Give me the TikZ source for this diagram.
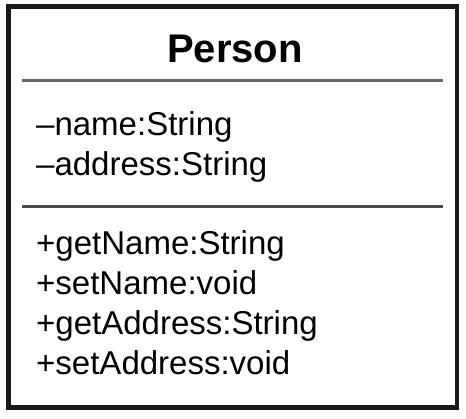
\documentclass[tikz,border=0pt]{standalone}
\usepackage{xcolor}
\usepackage{fontspec}
\setmainfont{Liberation Sans}
\usepackage{tikz}
\usetikzlibrary{positioning}

\begin{document}
\begin{tikzpicture}[x=1pt, y=-1pt]
\useasboundingbox (0,0) rectangle (466,418);

\tikzset{
  member/.style={anchor=base west, inner sep=0pt, font=\fontsize{33}{40}\selectfont},
  divider/.style={line width=3pt, black!60}
}

\draw[line width=4.5pt, black!90] (8.5,6.5) rectangle (457,407.5);

\node[anchor=base, inner sep=0pt, font=\fontsize{40}{48}\selectfont\bfseries] (title) at (235,62) {Person};

\draw[divider] (22,80) -- (443,80);

\node[member] (attr_0) at (36,135) {--name:String};
\node[member] (attr_1) at (36,175) {--address:String};

\draw[divider, black!70] (22,206) -- (443,206);

\node[member] (method_0) at (36,254) {+getName:String};
\node[member] (method_1) at (36,294) {+setName:void};
\node[member] (method_2) at (36,334) {+getAddress:String};
\node[member] (method_3) at (36,374) {+setAddress:void};

\end{tikzpicture}
\end{document}
